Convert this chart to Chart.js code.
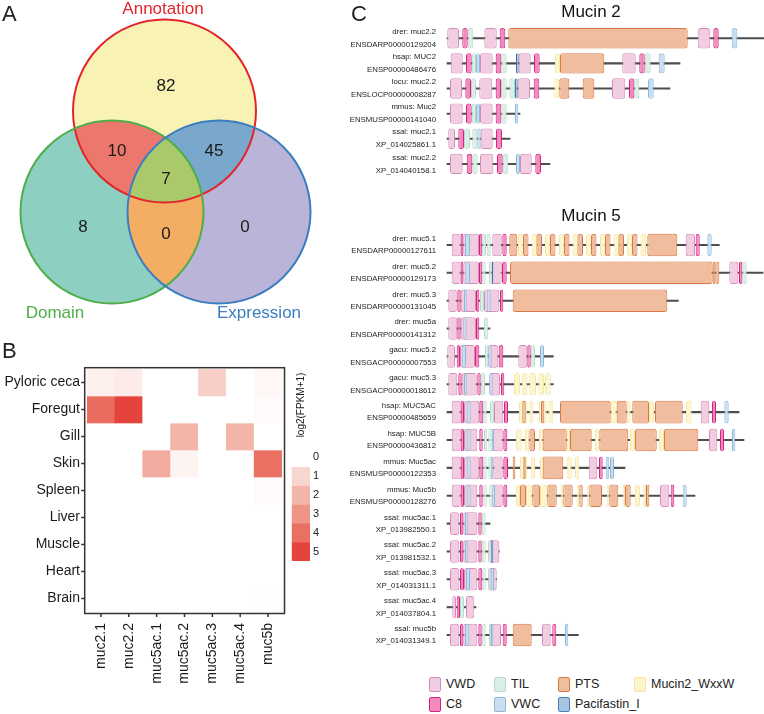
<!DOCTYPE html>
<html>
<head>
<meta charset="utf-8">
<title>Mucin genes</title>
<script src="https://cdn.jsdelivr.net/npm/chart.js@4.4.1/dist/chart.umd.min.js"></script>
<style>
  body { margin: 0; background: #fff; font-family: "Liberation Sans", Arial, sans-serif; }
  #page { position: relative; width: 764px; height: 714px; overflow: hidden; }
  canvas { position: absolute; }
  .panel { position: absolute; font-size: 22px; line-height: 22px; color: #222; }
  .title { position: absolute; font-size: 17px; line-height: 20px; color: #111; transform: translateX(-50%); white-space: nowrap; }
  #legend { position: absolute; left: 429px; top: 674px; display: grid; grid-auto-flow: column;
            grid-template-rows: 20px 20px; grid-template-columns: 65px 64px 76px auto; font-size: 12.5px; color: #222; }
  .item { display: flex; align-items: center; height: 20px; white-space: nowrap; }
  .swatch { flex: none; width: 10px; height: 13px; border: 1px solid; border-radius: 2px; margin-right: 5px; }
</style>
</head>
<body>
<div id="page">
  <canvas id="venn" width="340" height="330" style="left:0;top:0"></canvas>
  <canvas id="heatmap" width="300" height="379" style="left:0;top:335px"></canvas>
  <canvas id="colorbar" width="60" height="215" style="left:280px;top:360px"></canvas>
  <canvas id="mucin2" width="419" height="180" style="left:345px;top:0"></canvas>
  <canvas id="mucin5" width="419" height="455" style="left:345px;top:200px"></canvas>
  <div class="panel" style="left:2px;top:3px">A</div>
  <div class="panel" style="left:2px;top:340px">B</div>
  <div class="panel" style="left:351px;top:3px">C</div>
  <div class="title" style="left:591px;top:2px">Mucin 2</div>
  <div class="title" style="left:591px;top:206px">Mucin 5</div>
  <div id="legend"></div>
</div>
<script>
// ---------- A: Venn ----------
var vennSets = ['Annotation', 'Domain', 'Expression'];
// regions: A only, D only, E only, A+D, A+E, D+E, all three
var vennCounts = [82, 8, 0, 10, 45, 0, 7];

// ---------- B: heatmap, log2(FPKM+1) ----------
var tissues = ['Pyloric ceca', 'Foregut', 'Gill', 'Skin', 'Spleen', 'Liver', 'Muscle', 'Heart', 'Brain'];
var genes = ['muc2.1', 'muc2.2', 'muc5ac.1', 'muc5ac.2', 'muc5ac.3', 'muc5ac.4', 'muc5b'];
var expression = [
  [0.4, 0.5, 0, 0, 1.2, 0, 0.2],
  [4.1, 5.0, 0, 0, 0, 0, 0.1],
  [0, 0, 0, 2.0, 0, 2.0, 0],
  [0, 0, 2.3, 0.3, 0, 0, 4.0],
  [0, 0, 0, 0, 0, 0, 0.1],
  [0, 0, 0, 0, 0, 0, 0],
  [0, 0, 0, 0, 0, 0, 0],
  [0, 0, 0, 0, 0, 0, 0],
  [0, 0, 0, 0, 0, 0, 0.05]
];
var legendSteps = [0, 1, 2, 3, 4, 5];

// ---------- C: domain architecture (relative positions) ----------
var domainTypes = ['VWD', 'C8', 'TIL', 'VWC', 'PTS', 'Pacifastin_I', 'Mucin2_WxxW'];

var m2Names = ['drer: muc2.2', 'hsap: MUC2', 'locu: muc2.2', 'mmus: Muc2', 'ssal: muc2.1', 'ssal: muc2.2'];
var m2Ids = ['ENSDARP00000129204', 'ENSP00000486476', 'ENSLOCP00000008287', 'ENSMUSP00000141040', 'XP_014025861.1', 'XP_014040158.1'];
var m2Backbone = [[7, 324], [7, 240], [7, 230], [7, 80], [7, 70], [7, 110]];
// [row, start, end]
var m2VWD = [[0,7.3,19],[0,44.3,56.7],[0,257.7,270.3],[1,10.7,22.7],[1,40,52.7],[1,78.7,90.7],[1,182.3,195.7],
  [2,10,22],[2,39.3,52.3],[2,77.7,90],[2,172,185.3],[3,10,22.7],[3,40,52.7],[4,8.3,15],[4,40.7,52.7],
  [5,10,22.7],[5,40,53.3],[5,80,91.7]];
var m2C8 = [[0,22.3,27.7],[0,59.7,65.3],[0,273.3,278.7],[1,26,31.7],[1,55.7,61.3],[1,94,99.7],[1,199.3,204.7],
  [2,25.3,31],[2,55.7,61],[2,93.7,99.3],[2,189,194.3],[3,26,31.7],[3,55.7,61.3],[4,18.3,24],[4,56,62],
  [5,26.7,32.3],[5,57,62.7],[5,95.3,101]];
var m2TIL = [[0,27.7,33.3],[1,31.7,36],[1,61.3,66.7],[1,204.7,210.7],[2,31,36],[2,61,66.7],[2,69.3,75],[2,194.3,199.3],
  [3,31.7,36],[3,61.3,66.7],[4,24,30],[4,32.3,37.3],[5,32.3,37.7],[5,62.7,68.3]];
var m2VWC = [[0,291.7,297.3],[1,36,40],[1,218.7,224.7],[2,208,213.7],[3,36,40],[3,75,78.3],[4,37.3,40.7],[5,76,80]];
var m2PTS = [[0,68.3,247.7],[1,120,164.3],[2,119.3,129.3],[2,142.7,154.3]];
var m2Pacifastin = [[1,76,78.7],[2,75,77.7]];
var m2WxxW = [[1,115,120],[2,114.3,119.3]];

var m5Names = ['drer: muc5.1', 'drer: muc5.2', 'drer: muc5.3', 'drer: muc5a', 'gacu: muc5.2', 'gacu: muc5.3',
  'hsap: MUC5AC', 'hsap: MUC5B', 'mmus: Muc5ac', 'mmus: Muc5b', 'ssal: muc5ac.1', 'ssal: muc5ac.2',
  'ssal: muc5ac.3', 'ssal: muc5ac.4', 'ssal: muc5b'];
var m5Ids = ['ENSDARP00000127611', 'ENSDARP00000129173', 'ENSDARP00000131045', 'ENSDARP00000141312',
  'ENSGACP00000007553', 'ENSGACP00000018612', 'ENSP00000485659', 'ENSP00000436812', 'ENSMUSP00000122353',
  'ENSMUSP00000128276', 'XP_013982550.1', 'XP_013981532.1', 'XP_014031311.1', 'XP_014037804.1', 'XP_014031349.1'];
var m5Backbone = [[7,279.3],[7,323],[7,238.3],[7,50],[7,113.3],[7,113.3],[7,299],[7,304],[7,185],[7,255],
  [7,50],[7,59.3],[7,56.7],[7,36],[7,138.3]];
var m5VWD = [[0,11.7,20.7],[0,23.3,39],[0,52.3,61.7],[0,245.7,255],
  [1,11.7,20.7],[1,23.3,39],[1,51.7,61.7],[1,289.3,298.3],
  [2,8.3,16.7],[2,20.7,36],[2,44,59.3],
  [3,8.3,17.3],[3,20.7,36],
  [4,7.3,15],[4,20,35],[4,48.3,58.3],[4,78.3,87.3],
  [5,8.3,17.3],[5,21.7,36.7],[5,49.3,60],
  [6,11.7,20.7],[6,24,39.3],[6,54,63.3],[6,260.7,269.3],
  [7,11.7,20.7],[7,24,37.3],[7,52.7,62.7],[7,269,277.3],
  [8,11.7,20.7],[8,24,39.3],[8,53.3,62.7],[8,148.7,157.3],
  [9,11.7,20.7],[9,24,37.3],[9,52.7,62.7],[9,220,229.3],
  [10,10,19.3],[10,23.3,37.3],
  [11,10,19.3],[11,23.3,37.3],[11,48.3,59.3],
  [12,10,19.3],[12,24,37.3],[12,48.3,56.7],
  [13,12.3,16],[13,26,34.3],
  [14,10,19.3],[14,23.3,37.3],[14,49.3,61],[14,102,110.7]];
var m5C8 = [[0,20.7,23.3],[0,39,42.3],[0,62.3,66.7],[0,255.7,259.7],
  [1,20.7,23.3],[1,39,42.3],[1,62,66.7],[1,299,302.3],
  [2,17.3,20.7],[2,36,39.3],[2,60,63.3],
  [3,17.3,20.7],[3,36,39.3],
  [4,16.7,20],[4,35,39.3],[4,58.7,63.3],[4,87.3,90.7],
  [5,18.3,21.7],[5,37.3,40.7],[5,61,64.3],
  [6,20.7,24],[6,39.3,43.3],[6,64,68],[6,272,276],
  [7,20.7,24],[7,39.3,42.7],[7,63.3,67.3],[7,280,284],
  [8,20.7,24],[8,39.3,43.3],[8,63.3,68],[8,159,162.7],
  [9,20.7,24],[9,39.3,42.7],[9,63.3,67.3],[9,230.7,234.3],
  [10,20,23.3],[10,38.3,41.7],
  [11,20,23.3],[11,38.3,41.7],
  [12,20,24],[12,38.3,42.3],
  [13,16.7,20],
  [14,20,23.3],[14,38.3,41.7],[14,62.7,66.7],[14,112.3,116.3]];
var m5TIL = [[0,42.3,46],[0,46.7,50.7],[1,42.3,45.7],[1,49,51.7],[1,302.3,306.7],[2,40,44],[3,44,48.3],
  [4,45,48.3],[4,90.7,95],[5,40.7,45],[6,43.3,46.7],[6,50,54],[7,44,47.3],[7,48.3,52.7],
  [8,43.3,46.7],[8,48.3,52.7],[9,43.3,46.7],[9,49.3,52.7],[10,41.7,45.7],[11,41.7,45.7],[11,48.3,51.7],
  [12,42.3,45.7],[12,48.3,50.7],[13,20,24],[14,41.7,45.7],[14,49.3,51]];
var m5VWC = [[0,25,30],[0,267.3,271.7],[1,25.3,30],[2,24,26.7],[2,46.7,50.7],[3,23.3,26.7],
  [4,21.7,26],[4,48.3,51.7],[4,100,104],[5,24,26.7],[5,49.3,52.7],[6,26.7,30.7],[6,284.3,288.7],
  [7,26.7,30.7],[7,51.7,54],[7,292,295.3],[8,26.7,30.7],[8,50.7,53.3],[8,165.7,169.3],[8,170,174],
  [9,26.7,30.7],[9,51.7,55],[9,242.7,246.7],[10,25,28.3],[11,25,28.3],[12,26,30],[12,50.7,54],
  [14,25,29.3],[14,51,53.3],[14,125,128.3]];
var m5PTS = [[0,69.3,77.3],[0,83,88.5],[0,96.5,102],[0,110,115.5],[0,124,129.5],[0,137.5,143],[0,151,156.5],
  [0,165,170.5],[0,178.5,184],[0,192,197.5],[0,207.3,237.3],
  [1,70,272.7],[1,272.7,275.3],[1,275.3,279.3],
  [2,72.7,227.3],
  [6,82.3,85.7],[6,101,104.3],[6,120,170.7],[6,176.7,186.7],[6,192.3,209],[6,215,242.7],
  [7,89.3,95],[7,102.7,126.7],[7,130,151.7],[7,159.3,188.3],[7,195,216.7],[7,224,258.3],
  [8,72.7,75.3],[8,83.3,85.7],[8,102.7,123.3],
  [9,80,86],[9,92.3,100],[9,107.3,116.7],[9,123.3,132.7],[9,139.3,142.7],[9,149.3,162],[9,169.3,178.3],
  [9,185,190.7],[9,206,209.3],
  [14,72.7,91.7]];
var m5Pacifastin = [[1,51.7,53.3],[11,50.7,53.3]];
var m5WxxW = [[0,78,83.5],[0,91.5,97],[0,105,110.5],[0,119,124.5],[0,132.5,138],[0,146,151.5],[0,160,165.5],
  [0,173.5,179],[0,187,192.5],[0,200.5,206],
  [5,74,80],[5,81.7,87.3],[5,89.3,96],[5,98.3,104],[5,105,110.7],
  [6,79,87.3],[6,89.3,93.3],[6,99,106.7],[6,108.3,113.3],[6,170.7,176.7],[6,186.7,190.7],[6,209,214],[6,246,251.7],
  [7,76,81.7],[7,85,89.3],[7,99,102.7],[7,126.7,130],[7,155,159.3],[7,190,195],[7,219,224],
  [8,80,87.3],[8,90.7,95],[8,100,104],[8,126.7,131.7],[8,135,139.3],
  [9,76,80],[9,86,92.3],[9,100,107.3],[9,120.7,123.3],[9,136.7,139.3],[9,146.7,149.3],[9,166.7,169.3],
  [9,182.7,185],[9,195,200],[9,203.3,206]];

// ---------- styles / layout ----------
Chart.defaults.font.family = '"Liberation Sans", Arial, sans-serif';

var vennFill = ['#f8f2b4', '#8dd0c2', '#bab4d8', '#ec776c', '#79a8cc', '#f3ae63', '#a9c96b'];
var vennLine = ['#e3252b', '#4eae4a', '#3b7dbe'];
var vennCenters = [[164.5, 111], [112, 212], [219, 212]];
var vennRadius = 91.5;
var vennCountPos = [[166, 86], [83, 227], [245, 227], [117, 151], [214, 151], [166, 234], [166, 179]];
var vennNamePos = [[163, 9], [55, 313], [259, 313]];

var rampColors = ['#ffffff', '#f8d6d0', '#f3b5aa', '#ef9587', '#ea7063', '#e4433e'];

var domainFill = ['#f2cde2', '#f389bf', '#dcefe6', '#c9def0', '#f0bd9e', '#a8c6e3', '#fdf5cc'];
var domainLine = ['#d58cb8', '#d2247f', '#b8dccb', '#8cb8dc', '#d97a45', '#3f73b0', '#f3e6a8'];
var domainOrder = [5, 1, 4, 3, 6, 2, 7];

function hexToRgb(h) {
  return [parseInt(h.substr(1, 2), 16), parseInt(h.substr(3, 2), 16), parseInt(h.substr(5, 2), 16)];
}

function heatColor(v) {
  var i = Math.min(Math.floor(v), rampColors.length - 2);
  var f = v - i;
  var a = hexToRgb(rampColors[i]), b = hexToRgb(rampColors[i + 1]);
  var c = a.map(function(x, k) { return Math.round(x + (b[k] - x) * f); });
  return 'rgb(' + c.join(',') + ')';
}

var baseOptions = {
  responsive: false,
  animation: false,
  devicePixelRatio: 1,
  events: []
};

function opts(extra) {
  return Object.assign({}, baseOptions, extra);
}

// ---------- A ----------
function circlePath(ctx, c) {
  ctx.beginPath();
  ctx.arc(c.x, c.y, c.r, 0, Math.PI * 2);
}

var vennPlugin = {
  id: 'vennRegions',
  beforeDatasetsDraw: function(chart) {
    var ctx = chart.ctx;
    var cs = chart.getDatasetMeta(0).data.map(function(el) {
      return { x: el.x, y: el.y, r: el.options.radius };
    });
    var A = cs[0], D = cs[1], E = cs[2];
    ctx.save();
    [A, D, E].forEach(function(c, i) { circlePath(ctx, c); ctx.fillStyle = vennFill[i]; ctx.fill(); });
    [[A, D, 3], [A, E, 4], [D, E, 5]].forEach(function(p) {
      ctx.save(); circlePath(ctx, p[0]); ctx.clip();
      circlePath(ctx, p[1]); ctx.fillStyle = vennFill[p[2]]; ctx.fill();
      ctx.restore();
    });
    ctx.save();
    circlePath(ctx, A); ctx.clip();
    circlePath(ctx, D); ctx.clip();
    circlePath(ctx, E); ctx.fillStyle = vennFill[6]; ctx.fill();
    ctx.restore();
    ctx.restore();
  },
  afterDatasetsDraw: function(chart) {
    var ctx = chart.ctx, xs = chart.scales.x, ys = chart.scales.y;
    ctx.save();
    ctx.textAlign = 'center';
    ctx.textBaseline = 'middle';
    ctx.font = '17px "Liberation Sans", Arial, sans-serif';
    ctx.fillStyle = '#1a1a1a';
    vennCounts.forEach(function(n, i) {
      ctx.fillText(String(n), xs.getPixelForValue(vennCountPos[i][0]), ys.getPixelForValue(vennCountPos[i][1]));
    });
    vennSets.forEach(function(s, i) {
      ctx.fillStyle = vennLine[i];
      ctx.fillText(s, xs.getPixelForValue(vennNamePos[i][0]), ys.getPixelForValue(vennNamePos[i][1]));
    });
    ctx.restore();
  }
};

new Chart(document.getElementById('venn'), {
  type: 'bubble',
  data: {
    datasets: [{
      data: vennCenters.map(function(c) { return { x: c[0], y: c[1], r: vennRadius }; }),
      backgroundColor: 'rgba(0,0,0,0)',
      borderColor: vennLine,
      borderWidth: 2,
      clip: false
    }]
  },
  options: opts({
    layout: { padding: 0, autoPadding: false },
    plugins: { legend: { display: false }, tooltip: { enabled: false } },
    scales: {
      x: { display: false, min: 0, max: 340 },
      y: { display: false, min: 0, max: 330, reverse: true }
    }
  }),
  plugins: [vennPlugin]
});

// ---------- B ----------
var framePlugin = {
  id: 'heatFrame',
  afterDraw: function(chart) {
    var a = chart.chartArea, ctx = chart.ctx;
    var l = a.left - 2.3, r = a.right + 2.5, t = a.top - 1.3, b = a.bottom + 1.5;
    var xs = chart.scales.x, ys = chart.scales.y;
    ctx.save();
    ctx.strokeStyle = '#333';
    ctx.lineWidth = 1.5;
    ctx.strokeRect(l, t, r - l, b - t);
    ctx.beginPath();
    xs.ticks.forEach(function(_, i) {
      var p = xs.getPixelForTick(i);
      ctx.moveTo(p, b); ctx.lineTo(p, b + 3.5);
    });
    ys.ticks.forEach(function(_, i) {
      var p = ys.getPixelForTick(i);
      ctx.moveTo(l, p); ctx.lineTo(l - 3.5, p);
    });
    ctx.stroke();
    ctx.restore();
  }
};

new Chart(document.getElementById('heatmap'), {
  type: 'bar',
  data: {
    labels: genes,
    datasets: tissues.map(function(t, ti) {
      return {
        label: t,
        data: genes.map(function() { return [ti, ti + 1]; }),
        backgroundColor: expression[ti].map(heatColor),
        borderWidth: 0,
        grouped: false,
        barPercentage: 1,
        categoryPercentage: 1
      };
    })
  },
  options: opts({
    layout: { padding: { top: 34, right: 18, bottom: 0, left: 0 } },
    plugins: { legend: { display: false }, tooltip: { enabled: false } },
    scales: {
      x: {
        grid: { display: false, drawTicks: false },
        border: { display: false },
        ticks: { minRotation: 90, maxRotation: 90, padding: 11, color: '#1a1a1a', font: { size: 14 } },
        afterFit: function(s) { s.height = 102; }
      },
      y: {
        min: 0, max: 9, reverse: true,
        grid: { display: false, drawTicks: false },
        border: { display: false },
        afterBuildTicks: function(s) {
          s.ticks = tissues.map(function(t, i) { return { value: i + 0.5 }; });
        },
        ticks: {
          autoSkip: false, padding: 7, color: '#1a1a1a', font: { size: 14 },
          callback: function(v, i) { return tissues[i]; }
        },
        afterFit: function(s) { s.width = 87; }
      }
    }
  }),
  plugins: [framePlugin]
});

var barTitlePlugin = {
  id: 'barTitle',
  afterDraw: function(chart) {
    var ctx = chart.ctx, a = chart.chartArea;
    ctx.save();
    ctx.translate((a.left + a.right) / 2, 45);
    ctx.rotate(-Math.PI / 2);
    ctx.textAlign = 'center';
    ctx.textBaseline = 'middle';
    ctx.font = '10px "Liberation Sans", Arial, sans-serif';
    ctx.fillStyle = '#1a1a1a';
    ctx.fillText('log2(FPKM+1)', 0, 0);
    ctx.restore();
  }
};

new Chart(document.getElementById('colorbar'), {
  type: 'bar',
  data: {
    labels: [''],
    datasets: legendSteps.map(function(s, k) {
      return {
        data: [[k, k + 1]],
        backgroundColor: heatColor(s),
        borderWidth: 0,
        grouped: false,
        barPercentage: 1,
        categoryPercentage: 1
      };
    })
  },
  options: opts({
    layout: { padding: { left: 11.7, top: 87.8, bottom: 14, right: 0 } },
    plugins: { legend: { display: false }, tooltip: { enabled: false } },
    scales: {
      x: { display: false },
      y: {
        position: 'right', min: 0, max: 6, reverse: true,
        grid: { display: false, drawTicks: false },
        border: { display: false },
        afterBuildTicks: function(s) {
          s.ticks = legendSteps.map(function(v, k) { return { value: k + 0.5 }; });
        },
        ticks: {
          autoSkip: false, padding: 3, color: '#1a1a1a', font: { size: 11 },
          callback: function(v, i) { return String(legendSteps[i]); }
        },
        afterFit: function(s) { s.width = 30; }
      }
    }
  }),
  plugins: [barTitlePlugin]
});

// ---------- C ----------
function domainChart(canvasId, names, ids, backbone, domains, padTop, padBottom, lineHeight) {
  var datasets = domainTypes.map(function(type, k) {
    return {
      label: type,
      data: domains[k].map(function(d) { return { y: ids[d[0]], x: [d[1], d[2]] }; }),
      backgroundColor: domainFill[k],
      borderColor: domainLine[k],
      borderWidth: 1,
      borderSkipped: false,
      borderRadius: 2.5,
      grouped: false,
      order: domainOrder[k],
      barPercentage: 0.81,
      categoryPercentage: 1
    };
  });
  datasets.push({
    label: 'backbone',
    data: backbone.map(function(b, i) { return { y: ids[i], x: b }; }),
    backgroundColor: '#4d4d4d',
    borderWidth: 0,
    barThickness: 1.4,
    grouped: false,
    order: 99
  });

  return new Chart(document.getElementById(canvasId), {
    type: 'bar',
    data: { labels: ids, datasets: datasets },
    options: opts({
      indexAxis: 'y',
      layout: { padding: { top: padTop, bottom: padBottom, left: 0, right: 0 } },
      plugins: { legend: { display: false }, tooltip: { enabled: false } },
      scales: {
        x: { type: 'linear', display: false, min: 0, max: 324 },
        y: {
          grid: { display: false, drawTicks: false },
          border: { display: false },
          ticks: {
            autoSkip: false, padding: 4, color: '#222',
            font: { size: 7.8, lineHeight: lineHeight },
            callback: function(v, i) { return [names[i], ids[i]]; }
          },
          afterFit: function(s) {
            s.width = 95;
            // two-line labels would otherwise shrink the row band
            s.paddingTop = 0;
            s.paddingBottom = 0;
          }
        }
      }
    })
  });
}

domainChart('mucin2', m2Names, m2Ids, m2Backbone,
  [m2VWD, m2C8, m2TIL, m2VWC, m2PTS, m2Pacifastin, m2WxxW], 25.7, 3.5, 1.66);
domainChart('mucin5', m5Names, m5Ids, m5Backbone,
  [m5VWD, m5C8, m5TIL, m5VWC, m5PTS, m5Pacifastin, m5WxxW], 31, 6, 1.59);

// HTML legend for domain types
var legendEl = document.getElementById('legend');
domainTypes.forEach(function(type, k) {
  var item = document.createElement('div');
  item.className = 'item';
  var sw = document.createElement('span');
  sw.className = 'swatch';
  sw.style.background = domainFill[k];
  sw.style.borderColor = k === 5 ? '#4b80b8' : domainLine[k];
  item.appendChild(sw);
  item.appendChild(document.createTextNode(type));
  legendEl.appendChild(item);
});
</script>
</body>
</html>
